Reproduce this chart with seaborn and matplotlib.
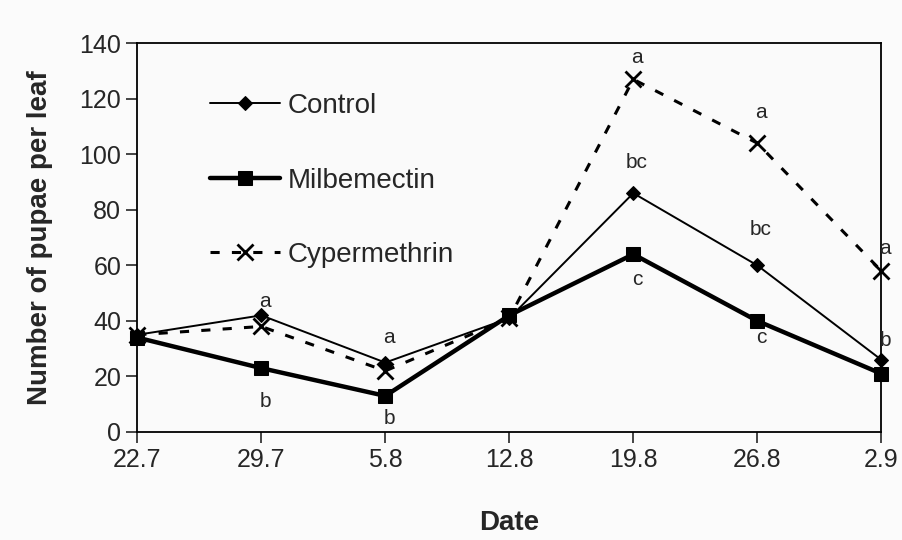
import matplotlib
matplotlib.use('Agg')
import matplotlib.pyplot as plt
import seaborn as sns

dates = ['22.7', '29.7', '5.8', '12.8', '19.8', '26.8', '2.9']
control = [35, 42, 25, 41, 86, 60, 26]
milbemectin = [34, 23, 13, 42, 64, 40, 21]
cypermethrin = [35, 38, 22, 41, 127, 104, 58]

# significance letters: (date index, y position, text)
letters = [(1, 47, 'a'), (1, 11, 'b'), (2, 34, 'a'), (2, 5, 'b'),
           (4, 135, 'a'), (4, 97, 'bc'), (4, 55, 'c'),
           (5, 115, 'a'), (5, 73, 'bc'), (5, 34, 'c'),
           (6, 66, 'a'), (6, 33, 'b')]

sns.set_style('ticks')
plt.rcParams['font.family'] = ['Liberation Sans', 'DejaVu Sans']

pos = list(range(len(dates)))
fig, ax = plt.subplots(figsize=(9.03, 5.4), dpi=100)
fig.patch.set_facecolor('#fbfbfb')
ax.set_facecolor('#fafafa')

sns.lineplot(x=pos, y=control, ax=ax, color='black', linewidth=1.4,
             marker='D', markersize=7, markeredgecolor='black',
             label='Control', clip_on=False)
sns.lineplot(x=pos, y=milbemectin, ax=ax, color='black', linewidth=3.2,
             marker='s', markersize=10, markeredgecolor='black',
             label='Milbemectin', clip_on=False)
sns.lineplot(x=pos, y=cypermethrin, ax=ax, color='black', linewidth=2.2,
             linestyle=(0, (3, 4)), marker='x', markersize=11,
             markeredgewidth=2, markeredgecolor='black',
             label='Cypermethrin', clip_on=False)

for i, yv, t in letters:
    ax.text(i + 0.03, yv, t, ha='center', va='center', fontsize=15)

ax.set_xlim(0, 6)
ax.set_ylim(0, 140)
ax.set_xticks(pos)
ax.set_xticklabels(dates)
ax.set_yticks(range(0, 141, 20))
ax.tick_params(labelsize=18, length=8, width=1.2, direction='out')
ax.set_xlabel('Date', fontsize=20, fontweight='bold')
ax.set_ylabel('Number of pupae per leaf', fontsize=20, fontweight='bold')
ax.xaxis.set_label_coords(0.5, -0.2)
ax.yaxis.set_label_coords(-0.113, 0.5)
for s in ax.spines.values():
    s.set_linewidth(1.3)
    s.set_color('black')

leg = ax.legend(loc='upper left', bbox_to_anchor=(0.098, 0.872), frameon=False,
                fontsize=20, handlelength=2.5, handletextpad=0.3,
                labelspacing=1.75, borderpad=0, borderaxespad=0)

fig.subplots_adjust(left=0.152, right=0.976, top=0.92, bottom=0.2)
fig.savefig('out.png', dpi=100, facecolor=fig.get_facecolor())
